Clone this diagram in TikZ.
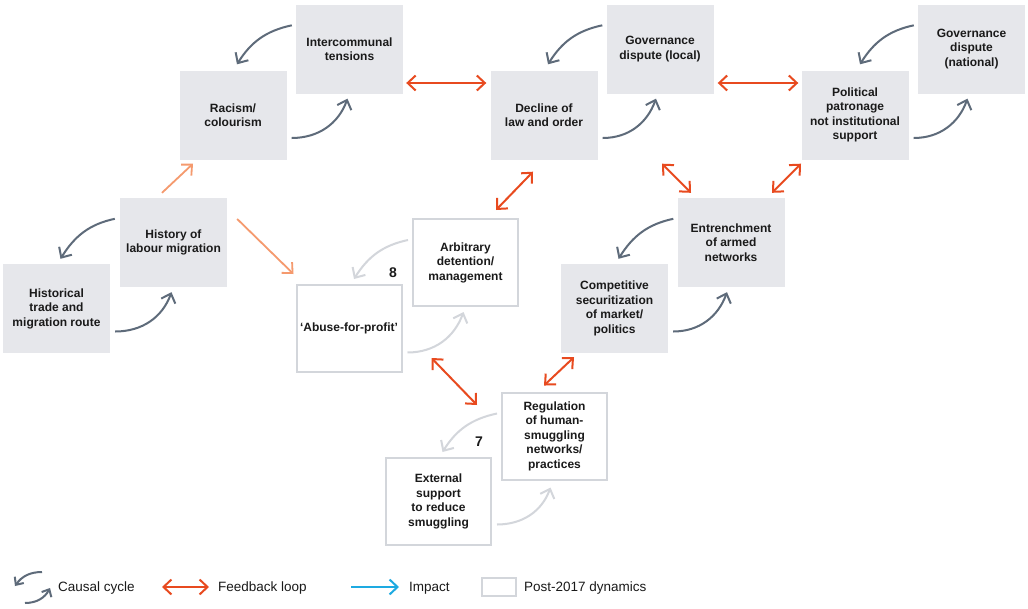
\documentclass[tikz,border=0pt]{standalone}
\usepackage{fontspec}
\setmainfont{Liberation Sans}
\usetikzlibrary{arrows.meta,calc}
\definecolor{boxgrey}{HTML}{E6E7EB}
\definecolor{postline}{HTML}{D3D6DB}
\definecolor{slate}{HTML}{5E6B7A}
\definecolor{fbred}{HTML}{E84A1F}
\definecolor{lightorange}{HTML}{F59A6E}
\definecolor{impactblue}{HTML}{1EAAE1}
\definecolor{ink}{HTML}{1A1A1A}
\tikzset{
  x=1pt,y=1pt,
  gbox/.style={fill=boxgrey,minimum width=107pt,minimum height=89pt,inner sep=0pt,align=center,
    font=\fontsize{12}{14.5}\selectfont\bfseries,text=ink},
  wbox/.style={fill=white,draw=postline,line width=2pt,minimum width=105pt,minimum height=87pt,inner sep=0pt,align=center,
    font=\fontsize{12}{14.5}\selectfont\bfseries,text=ink},
  barb/.tip={Straight Barb[length=8pt,width=15pt]},
  cyc/.style={draw=slate,line width=2pt,-{barb}},
  lcyc/.style={draw=postline,line width=2pt,-{barb}},
  fb/.style={draw=fbred,line width=2pt,{barb}-{barb}},
  imp/.style={draw=lightorange,line width=1.8pt,-{barb}},
  numlab/.style={font=\fontsize{14}{14}\selectfont\bfseries,text=ink,inner sep=0pt},
  legtext/.style={font=\fontsize{13.5}{14}\selectfont,text=ink,anchor=west,inner sep=0pt}
}
\begin{document}
\begin{tikzpicture}
\useasboundingbox (0,0) rectangle (1028,-608);
\fill[white] (0,0) rectangle (1028,-608);

% grey boxes
\node[gbox] (htr)  at (56.5,-308.5) {Historical\\trade and\\migration route};
\node[gbox] (hist) at (173.5,-242.5) {History of\\labour migration};
\node[gbox] (rac)  at (233,-115) {Racism/\\colourism};
\node[gbox] (ic)   at (349.5,-49) {Intercommunal\\tensions};
\node[gbox] (dec)  at (544,-115) {Decline of\\law and order};
\node[gbox] (gvl)  at (660,-49) {Governance\\dispute (local)};
\node[gbox] (pol)  at (855,-115) {Political\\patronage\\not institutional\\support};
\node[gbox] (gvn)  at (971.5,-49) {Governance\\dispute\\(national)};
\node[gbox] (ent)  at (731,-242.5) {Entrenchment\\of armed\\networks};
\node[gbox] (comp) at (614.5,-308.5) {Competitive\\securitization\\of market/\\politics};

% post-2017 boxes
\node[wbox] (abu) at (349,-328.5) {‘Abuse-for-profit’};
\node[wbox] (arb) at (465.5,-262.5) {Arbitrary\\detention/\\management};
\node[wbox] (ext) at (438.5,-501.5) {External\\support\\to reduce\\smuggling};
\node[wbox] (reg) at (554.5,-436) {Regulation\\of human-\\smuggling\\networks/\\practices};

\node[numlab] (n8) at (393,-273) {8};
\node[numlab] (n7) at (479,-442) {7};

% causal cycles (dark)
\draw[cyc] ($(ic.north west)+(-4,-21)$) to[out=192,in=58] ($(rac.north)+(4,6)$);
\draw[cyc] ($(rac.east)+(5,-23)$) to[out=0,in=250] ($(ic.south)+(-2,-5)$);
\draw[cyc] ($(gvl.north west)+(-4,-21)$) to[out=192,in=58] ($(dec.north)+(4,6)$);
\draw[cyc] ($(dec.east)+(5,-23)$) to[out=0,in=250] ($(gvl.south)+(-4,-5)$);
\draw[cyc] ($(gvn.north west)+(-4,-21)$) to[out=192,in=58] ($(pol.north)+(5,6)$);
\draw[cyc] ($(pol.east)+(5,-23)$) to[out=0,in=250] ($(gvn.south)+(-4,-5)$);
\draw[cyc] ($(hist.north west)+(-5,-21)$) to[out=192,in=58] ($(htr.north)+(4,5)$);
\draw[cyc] ($(htr.east)+(5,-23)$) to[out=0,in=250] ($(hist.south)+(-2,-5)$);
\draw[cyc] ($(ent.north west)+(-4,-21)$) to[out=192,in=58] ($(comp.north)+(4,5)$);
\draw[cyc] ($(comp.east)+(5,-23)$) to[out=0,in=250] ($(ent.south)+(-4,-5)$);

% causal cycles (post-2017, light)
\draw[lcyc] ($(arb.north west)+(-4,-22)$) to[out=192,in=58] ($(abu.north)+(5,5)$);
\draw[lcyc] ($(abu.east)+(5,-24)$) to[out=0,in=250] ($(arb.south)+(-2,-5)$);
\draw[lcyc] ($(reg.north west)+(-4,-22)$) to[out=192,in=58] ($(ext.north)+(4,5)$);
\draw[lcyc] ($(ext.east)+(5,-23)$) to[out=0,in=250] ($(reg.south)+(-4,-7)$);

% feedback loops
\draw[fb] ($(ic.east)+(3,-34)$) -- ($(dec.west)+(-4,32)$);
\draw[fb] ($(gvl.east)+(4,-34)$) -- ($(pol.west)+(-3,32)$);
\draw[fb] ($(dec.south)+(-11,-12)$) -- ($(arb.north)+(30.5,8)$);
\draw[fb] ($(gvl.south)+(2,-70)$) -- ($(ent.north)+(-40,5)$);
\draw[fb] ($(pol.south)+(-54,-4)$) -- ($(ent.north)+(41,5)$);
\draw[fb] ($(abu.east)+(29,-29.5)$) -- ($(reg.west)+(-24,31)$);
\draw[fb] ($(comp.south)+(-40.5,-4)$) -- ($(reg.north)+(-10.5,6)$);

% light orange impacts
\draw[imp] ($(hist.north)+(-11.5,5)$) -- ($(rac.south)+(-40,-4)$);
\draw[imp] ($(hist.east)+(10,23.5)$) -- ($(abu.north west)+(-2,10)$);

% legend
\coordinate (lc1a) at (42,-572);
\coordinate (lc1b) at (15,-586);
\coordinate (lc2a) at (25,-603);
\coordinate (lc2b) at (50,-588);
\draw[draw=slate,line width=2pt,-{Straight Barb[length=6pt,width=11pt]}] (lc1a) to[out=180,in=55] (lc1b);
\draw[draw=slate,line width=2pt,-{Straight Barb[length=6pt,width=11pt]}] (lc2a) to[out=0,in=242] (lc2b);
\node[legtext] (lgc) at (58,-588) {Causal cycle};
\coordinate (lf1) at (162,-587);
\coordinate (lf2) at (209,-587);
\draw[fb] (lf1) -- (lf2);
\node[legtext] (lgf) at (218,-588) {Feedback loop};
\coordinate (li1) at (351,-587);
\coordinate (li2) at (399,-587);
\draw[draw=impactblue,line width=2pt,-{barb}] (li1) -- (li2);
\node[legtext] (lgi) at (409,-588) {Impact};
\node[draw=postline,line width=2pt,fill=white,minimum width=34pt,minimum height=18pt,inner sep=0pt] (lgbox) at (499,-587) {};
\node[legtext] (lgp) at (524,-588) {Post-2017 dynamics};
\end{tikzpicture}
\end{document}
